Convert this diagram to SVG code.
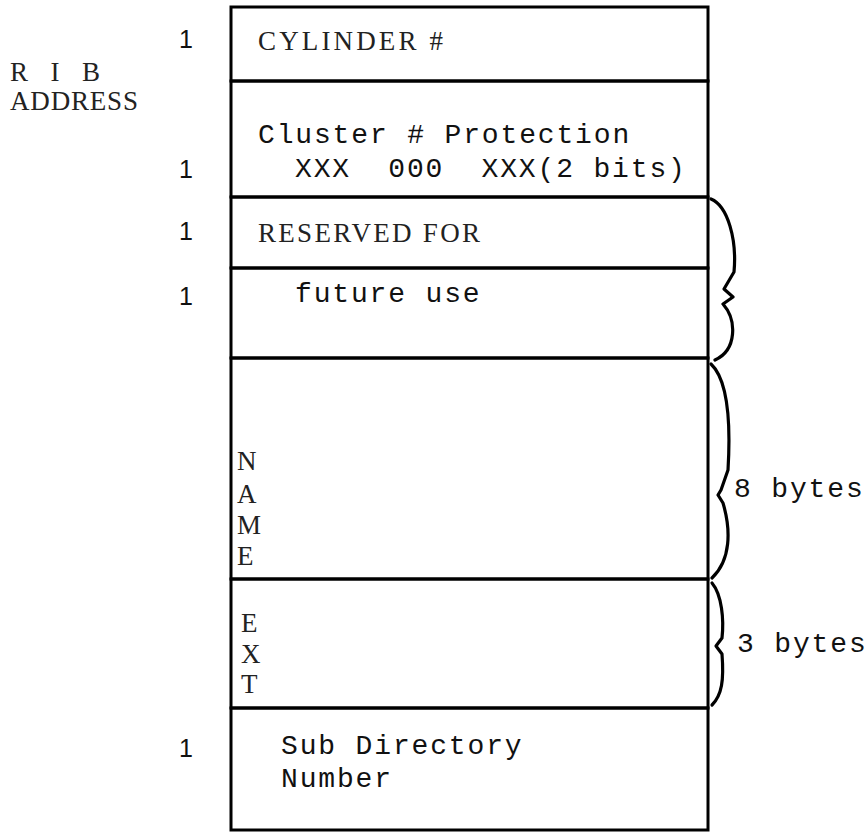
<svg xmlns="http://www.w3.org/2000/svg" width="867" height="836" viewBox="0 0 867 836">
<style>
.box{fill:none;stroke:#000;stroke-width:3}
.t{font-family:"Liberation Mono","Courier New",monospace;font-size:28px;letter-spacing:1.85px;fill:#111;white-space:pre}
.c{font-family:"Liberation Serif","Times New Roman",serif;font-size:27px;fill:#222}
.n{font-family:"Liberation Sans",Arial,sans-serif;font-size:25px;fill:#111;text-anchor:middle}
.br{fill:none;stroke:#000;stroke-width:3.2;stroke-linecap:round;stroke-linejoin:round}
</style>
<rect width="867" height="836" fill="#fff"/>
<g id="rib-address">
<text class="c" x="10" y="81" fill="#555" textLength="90" lengthAdjust="spacing">R I B</text>
<text class="c" x="10" y="110" fill="#555" textLength="128" lengthAdjust="spacing">ADDRESS</text>
</g>
<g id="cylinder">
<rect class="box" x="231" y="7" width="477" height="74"/>
<text class="n" x="186" y="48">1</text>
<text class="c" x="258" y="50" textLength="185" lengthAdjust="spacing">CYLINDER #</text>
</g>
<g id="cluster">
<rect class="box" x="231" y="81" width="477" height="116"/>
<text class="t" x="258" y="143">Cluster # Protection</text>
<text class="n" x="186" y="178">1</text>
<text class="t" x="295" y="177" xml:space="preserve">XXX  000  XXX(2 bits)</text>
</g>
<g id="reserved">
<rect class="box" x="231" y="197" width="477" height="71"/>
<text class="n" x="186" y="240">1</text>
<text class="c" x="258" y="242" textLength="222" lengthAdjust="spacing">RESERVED FOR</text>
</g>
<g id="future">
<rect class="box" x="231" y="268" width="477" height="90"/>
<text class="n" x="186" y="305">1</text>
<text class="t" x="295" y="302">future use</text>
</g>
<g id="name">
<rect class="box" x="231" y="358" width="477" height="221"/>
<text class="c" x="237" y="470">N</text>
<text class="c" x="237" y="503">A</text>
<text class="c" x="237" y="534">M</text>
<text class="c" x="237" y="565">E</text>
</g>
<g id="ext">
<rect class="box" x="231" y="579" width="477" height="129"/>
<text class="c" x="241" y="632">E</text>
<text class="c" x="241" y="663">X</text>
<text class="c" x="241" y="693">T</text>
</g>
<g id="subdir">
<rect class="box" x="231" y="708" width="477" height="122"/>
<text class="n" x="186" y="757">1</text>
<text class="t" x="281" y="754">Sub Directory</text>
<text class="t" x="281" y="787">Number</text>
</g>
<g id="connectors">
<path class="br" d="M711 199 C728 206 737 240 734 272 L724 289 L733 297 L723 304 C737 320 737 350 715 360"/>
<path class="br" d="M711 364 C728 380 731 420 728 470 L721 490 L718 495 L723 503 C731 530 731 560 712 578"/>
<path class="br" d="M712 583 C722 595 724 620 722 638 L716 646 L722 654 C724 680 722 695 712 705"/>
<text class="t" x="734" y="497">8 bytes</text>
<text class="t" x="737" y="652">3 bytes</text>
</g>
</svg>
